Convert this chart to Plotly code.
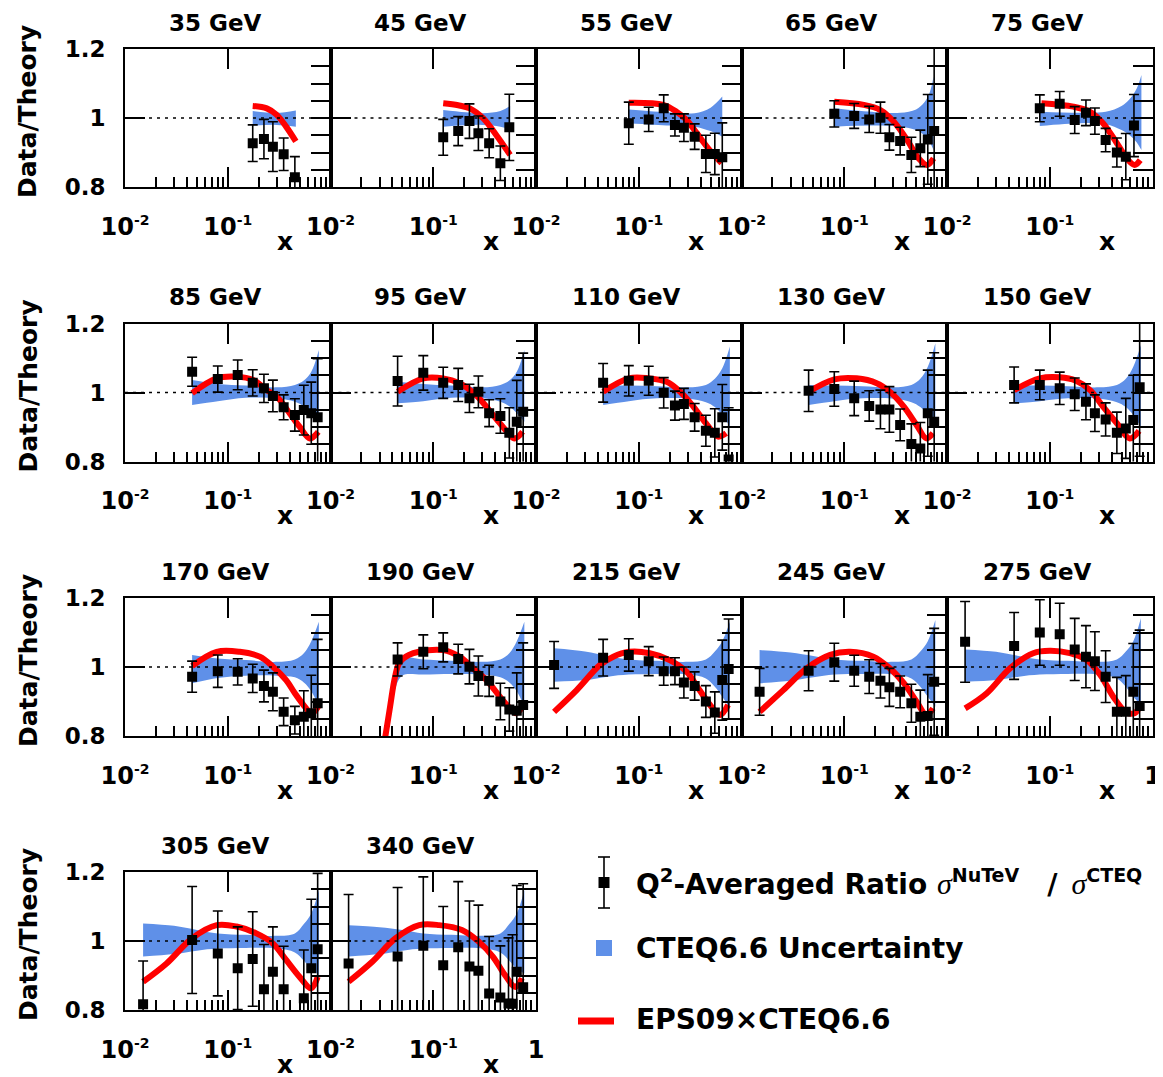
import plotly.graph_objects as go

W, H = 1163, 1077

# ---------------- data ----------------
TITLES = ["35 GeV", "45 GeV", "55 GeV", "65 GeV", "75 GeV",
          "85 GeV", "95 GeV", "110 GeV", "130 GeV", "150 GeV",
          "170 GeV", "190 GeV", "215 GeV", "245 GeV", "275 GeV",
          "305 GeV", "340 GeV"]

# 35 GeV
X_35 = [0.175, 0.225, 0.275, 0.35, 0.45]
Y_35 = [0.927, 0.939, 0.917, 0.895, 0.828]
E_35 = [0.053, 0.057, 0.072, 0.047, 0.06]
CX_35 = [0.175, 0.24, 0.3, 0.37, 0.46]
CY_35 = [1.035, 1.028, 1.009, 0.975, 0.932]
BX_35 = [0.175, 0.3, 0.46]
BLO_35 = [0.978, 0.98, 0.975]
BHI_35 = [1.02, 1.015, 1.022]

# 45 GeV
X_45 = [0.125, 0.175, 0.225, 0.275, 0.35, 0.45, 0.55]
Y_45 = [0.944, 0.962, 0.991, 0.956, 0.927, 0.869, 0.973]
E_45 = [0.052, 0.042, 0.05, 0.05, 0.042, 0.05, 0.096]
CX_45 = [0.125, 0.175, 0.227, 0.307, 0.41, 0.56]
CY_45 = [1.043, 1.037, 1.028, 0.999, 0.951, 0.893]
BX_45 = [0.125, 0.3, 0.45, 0.56]
BLO_45 = [0.975, 0.98, 0.975, 0.968]
BHI_45 = [1.023, 1.014, 1.02, 1.035]

# 55 GeV
X_55 = [0.08, 0.125, 0.175, 0.225, 0.275, 0.35, 0.45, 0.55, 0.65]
Y_55 = [0.985, 0.996, 1.028, 0.98, 0.972, 0.946, 0.896, 0.896, 0.886]
E_55 = [0.061, 0.035, 0.039, 0.032, 0.04, 0.037, 0.054, 0.06, 0.1]
CX_55 = [0.08, 0.173, 0.233, 0.293, 0.367, 0.49, 0.64]
CY_55 = [1.044, 1.038, 1.018, 0.994, 0.956, 0.907, 0.869]
BX_55 = [0.08, 0.2, 0.35, 0.5, 0.65]
BLO_55 = [0.985, 0.978, 0.975, 0.962, 0.946]
BHI_55 = [1.025, 1.016, 1.014, 1.03, 1.062]

# 65 GeV
X_65 = [0.08, 0.125, 0.175, 0.225, 0.275, 0.35, 0.45, 0.55, 0.65, 0.75]
Y_65 = [1.012, 1.006, 0.996, 1.001, 0.944, 0.933, 0.893, 0.912, 0.938, 0.962]
E_65 = [0.038, 0.036, 0.038, 0.045, 0.037, 0.04, 0.051, 0.053, 0.13, 0.25]
CX_65 = [0.08, 0.155, 0.225, 0.304, 0.41, 0.53, 0.64, 0.74]
CY_65 = [1.047, 1.038, 1.023, 0.989, 0.936, 0.883, 0.864, 0.883]
BX_65 = [0.08, 0.2, 0.35, 0.5, 0.6, 0.68, 0.74]
BLO_65 = [0.975, 0.978, 0.975, 0.965, 0.95, 0.93, 0.907]
BHI_65 = [1.028, 1.017, 1.015, 1.025, 1.045, 1.075, 1.12]

# 75 GeV
X_75 = [0.08, 0.125, 0.175, 0.225, 0.275, 0.35, 0.45, 0.55, 0.66]
Y_75 = [1.028, 1.041, 0.994, 1.015, 0.991, 0.936, 0.9, 0.888, 0.978]
E_75 = [0.039, 0.036, 0.039, 0.037, 0.038, 0.034, 0.042, 0.067, 0.09]
CX_75 = [0.083, 0.17, 0.247, 0.33, 0.45, 0.58, 0.67, 0.76]
CY_75 = [1.043, 1.033, 1.018, 0.985, 0.927, 0.878, 0.864, 0.878]
BX_75 = [0.08, 0.2, 0.35, 0.5, 0.6, 0.7, 0.78]
BLO_75 = [0.977, 0.985, 0.982, 0.965, 0.95, 0.93, 0.907]
BHI_75 = [1.018, 1.015, 1.018, 1.035, 1.055, 1.085, 1.125]

# 85 GeV
X_85 = [0.045, 0.08, 0.125, 0.175, 0.225, 0.275, 0.35, 0.45, 0.55, 0.65, 0.75]
Y_85 = [1.06, 1.039, 1.051, 1.028, 1.012, 0.99, 0.957, 0.935, 0.949, 0.94, 0.928]
E_85 = [0.042, 0.038, 0.043, 0.038, 0.041, 0.046, 0.036, 0.047, 0.072, 0.09, 0.17]
CX_85 = [0.045, 0.078, 0.122, 0.177, 0.24, 0.3, 0.4, 0.5, 0.63, 0.76]
CY_85 = [0.998, 1.041, 1.046, 1.036, 1.007, 0.988, 0.94, 0.901, 0.867, 0.886]
BX_85 = [0.045, 0.08, 0.15, 0.3, 0.45, 0.55, 0.65, 0.77]
BLO_85 = [0.964, 0.975, 0.985, 0.983, 0.973, 0.96, 0.94, 0.915]
BHI_85 = [1.036, 1.025, 1.02, 1.015, 1.022, 1.035, 1.06, 1.123]

# 95 GeV
X_95 = [0.045, 0.08, 0.125, 0.175, 0.225, 0.275, 0.35, 0.45, 0.55, 0.65, 0.75]
Y_95 = [1.033, 1.057, 1.028, 1.022, 0.983, 1.002, 0.94, 0.932, 0.883, 0.915, 0.944]
E_95 = [0.072, 0.05, 0.045, 0.048, 0.041, 0.046, 0.039, 0.05, 0.073, 0.12, 0.17]
CX_95 = [0.045, 0.08, 0.125, 0.18, 0.26, 0.35, 0.46, 0.62, 0.74]
CY_95 = [1.002, 1.041, 1.041, 1.027, 0.993, 0.949, 0.906, 0.867, 0.886]
BX_95 = [0.045, 0.08, 0.15, 0.3, 0.45, 0.55, 0.65, 0.77]
BLO_95 = [0.969, 0.975, 0.985, 0.983, 0.973, 0.96, 0.94, 0.915]
BHI_95 = [1.031, 1.025, 1.02, 1.015, 1.022, 1.035, 1.06, 1.123]

# 110 GeV
X_110 = [0.045, 0.08, 0.125, 0.175, 0.225, 0.275, 0.35, 0.45, 0.55, 0.65, 0.75]
Y_110 = [1.028, 1.034, 1.034, 0.999, 0.962, 0.967, 0.928, 0.889, 0.883, 0.928, 0.806]
E_110 = [0.056, 0.044, 0.042, 0.044, 0.042, 0.045, 0.04, 0.045, 0.07, 0.095, 0.15]
CX_110 = [0.045, 0.08, 0.125, 0.187, 0.253, 0.34, 0.45, 0.59, 0.71]
CY_110 = [1.002, 1.041, 1.041, 1.031, 1.002, 0.959, 0.911, 0.872, 0.882]
BX_110 = [0.045, 0.08, 0.15, 0.3, 0.45, 0.55, 0.65, 0.77]
BLO_110 = [0.964, 0.975, 0.983, 0.982, 0.972, 0.958, 0.935, 0.901]
BHI_110 = [1.022, 1.02, 1.018, 1.015, 1.022, 1.04, 1.07, 1.133]

# 130 GeV
X_130 = [0.045, 0.08, 0.125, 0.175, 0.225, 0.275, 0.35, 0.45, 0.55, 0.65, 0.75]
Y_130 = [1.005, 1.01, 0.983, 0.961, 0.951, 0.951, 0.906, 0.851, 0.838, 0.94, 0.915]
E_130 = [0.06, 0.05, 0.05, 0.044, 0.056, 0.066, 0.046, 0.058, 0.075, 0.125, 0.2]
CX_130 = [0.045, 0.08, 0.132, 0.207, 0.278, 0.38, 0.505, 0.63, 0.73]
CY_130 = [1.002, 1.038, 1.041, 1.027, 1.002, 0.959, 0.906, 0.867, 0.882]
BX_130 = [0.045, 0.08, 0.15, 0.3, 0.45, 0.55, 0.65, 0.77]
BLO_130 = [0.964, 0.975, 0.983, 0.982, 0.972, 0.958, 0.935, 0.901]
BHI_130 = [1.022, 1.02, 1.018, 1.015, 1.022, 1.04, 1.075, 1.143]

# 150 GeV
X_150 = [0.045, 0.08, 0.125, 0.175, 0.225, 0.275, 0.35, 0.45, 0.55, 0.65, 0.75]
Y_150 = [1.022, 1.022, 1.012, 0.995, 0.973, 0.94, 0.922, 0.883, 0.896, 0.92, 1.015]
E_150 = [0.052, 0.043, 0.047, 0.047, 0.052, 0.053, 0.048, 0.06, 0.087, 0.13, 0.2]
CX_150 = [0.045, 0.08, 0.125, 0.18, 0.247, 0.33, 0.45, 0.6, 0.74]
CY_150 = [1.007, 1.041, 1.044, 1.034, 1.007, 0.959, 0.911, 0.867, 0.889]
BX_150 = [0.045, 0.08, 0.15, 0.3, 0.45, 0.55, 0.65, 0.77]
BLO_150 = [0.968, 0.975, 0.983, 0.982, 0.972, 0.958, 0.935, 0.9]
BHI_150 = [1.022, 1.02, 1.018, 1.015, 1.022, 1.04, 1.075, 1.138]

# 170 GeV
X_170 = [0.045, 0.08, 0.125, 0.175, 0.225, 0.275, 0.35, 0.45, 0.55, 0.65, 0.75]
Y_170 = [0.972, 0.988, 0.986, 0.967, 0.945, 0.928, 0.87, 0.846, 0.856, 0.866, 0.895]
E_170 = [0.045, 0.047, 0.038, 0.041, 0.046, 0.055, 0.04, 0.04, 0.075, 0.11, 0.185]
CX_170 = [0.045, 0.078, 0.131, 0.205, 0.275, 0.37, 0.45, 0.58, 0.65, 0.76]
CY_170 = [1.003, 1.044, 1.044, 1.03, 1.001, 0.962, 0.924, 0.88, 0.864, 0.885]
BX_170 = [0.045, 0.08, 0.15, 0.3, 0.45, 0.55, 0.65, 0.77]
BLO_170 = [0.953, 0.968, 0.975, 0.975, 0.97, 0.955, 0.93, 0.885]
BHI_170 = [1.035, 1.025, 1.02, 1.015, 1.022, 1.04, 1.075, 1.131]

# 190 GeV
X_190 = [0.045, 0.08, 0.125, 0.175, 0.225, 0.275, 0.35, 0.45, 0.55, 0.65, 0.75]
Y_190 = [1.022, 1.044, 1.057, 1.023, 1.001, 0.974, 0.96, 0.9, 0.877, 0.873, 0.89]
E_190 = [0.048, 0.049, 0.042, 0.043, 0.05, 0.058, 0.045, 0.053, 0.063, 0.11, 0.18]
CX_190 = [0.033, 0.038, 0.0425, 0.0474, 0.064, 0.125, 0.18, 0.245, 0.33, 0.445, 0.56, 0.64, 0.74]
CY_190 = [0.77, 0.885, 0.972, 1.015, 1.04, 1.049, 1.03, 0.996, 0.962, 0.914, 0.88, 0.866, 0.885]
BX_190 = [0.034, 0.038, 0.043, 0.05, 0.08, 0.15, 0.3, 0.45, 0.55, 0.65, 0.77]
BLO_190 = [0.78, 0.85, 0.94, 0.975, 0.978, 0.98, 0.978, 0.97, 0.955, 0.93, 0.885]
BHI_190 = [0.82, 0.9, 0.985, 1.025, 1.022, 1.018, 1.015, 1.022, 1.04, 1.075, 1.131]

# 215 GeV
X_215 = [0.015, 0.045, 0.08, 0.125, 0.175, 0.225, 0.275, 0.35, 0.45, 0.55, 0.65, 0.75]
Y_215 = [1.006, 1.027, 1.035, 1.017, 0.988, 0.988, 0.955, 0.945, 0.9, 0.868, 0.962, 0.994]
E_215 = [0.068, 0.053, 0.047, 0.042, 0.041, 0.039, 0.045, 0.041, 0.046, 0.06, 0.116, 0.145]
CX_215 = [0.015, 0.0249, 0.042, 0.0565, 0.08, 0.128, 0.2, 0.293, 0.39, 0.51, 0.62, 0.74]
CY_215 = [0.87, 0.933, 1.006, 1.03, 1.044, 1.04, 1.02, 0.986, 0.933, 0.885, 0.861, 0.89]
BX_215 = [0.015, 0.03, 0.05, 0.08, 0.15, 0.3, 0.45, 0.55, 0.65, 0.77]
BLO_215 = [0.957, 0.962, 0.972, 0.978, 0.98, 0.978, 0.967, 0.943, 0.914, 0.88]
BHI_215 = [1.054, 1.045, 1.032, 1.022, 1.018, 1.015, 1.022, 1.045, 1.075, 1.131]

# 245 GeV
X_245 = [0.015, 0.045, 0.08, 0.125, 0.175, 0.225, 0.275, 0.35, 0.45, 0.55, 0.65, 0.75]
Y_245 = [0.928, 0.989, 1.014, 0.989, 0.972, 0.96, 0.941, 0.928, 0.895, 0.856, 0.858, 0.957]
E_245 = [0.068, 0.058, 0.055, 0.045, 0.049, 0.05, 0.055, 0.046, 0.055, 0.077, 0.12, 0.155]
CX_245 = [0.015, 0.0255, 0.043, 0.073, 0.114, 0.192, 0.278, 0.38, 0.505, 0.63, 0.73]
CY_245 = [0.87, 0.933, 0.996, 1.035, 1.044, 1.03, 0.996, 0.953, 0.9, 0.861, 0.88]
BX_245 = [0.015, 0.03, 0.05, 0.08, 0.15, 0.3, 0.45, 0.55, 0.65, 0.77]
BLO_245 = [0.953, 0.96, 0.97, 0.978, 0.98, 0.978, 0.967, 0.943, 0.914, 0.885]
BHI_245 = [1.049, 1.042, 1.032, 1.022, 1.018, 1.015, 1.022, 1.045, 1.075, 1.136]

# 275 GeV
X_275 = [0.015, 0.045, 0.08, 0.125, 0.175, 0.225, 0.275, 0.35, 0.45, 0.55, 0.65, 0.75]
Y_275 = [1.073, 1.061, 1.1, 1.095, 1.051, 1.03, 1.017, 0.972, 0.87, 0.87, 0.928, 0.887]
E_275 = [0.117, 0.097, 0.095, 0.09, 0.09, 0.09, 0.085, 0.075, 0.1, 0.105, 0.14, 0.22]
CX_275 = [0.015, 0.0244, 0.041, 0.069, 0.1, 0.157, 0.229, 0.31, 0.415, 0.55, 0.67, 0.75]
CY_275 = [0.88, 0.924, 0.996, 1.04, 1.047, 1.04, 1.02, 0.977, 0.914, 0.87, 0.866, 0.885]
BX_275 = [0.015, 0.03, 0.05, 0.08, 0.15, 0.3, 0.45, 0.55, 0.65, 0.77]
BLO_275 = [0.957, 0.962, 0.972, 0.978, 0.98, 0.978, 0.967, 0.943, 0.914, 0.89]
BHI_275 = [1.051, 1.044, 1.032, 1.022, 1.018, 1.015, 1.022, 1.045, 1.075, 1.141]

# 305 GeV
X_305 = [0.015, 0.045, 0.08, 0.125, 0.175, 0.225, 0.275, 0.35, 0.55, 0.65, 0.75]
Y_305 = [0.817, 1.003, 0.964, 0.921, 0.948, 0.86, 0.911, 0.86, 0.834, 0.921, 0.976]
E_305 = [0.125, 0.155, 0.123, 0.12, 0.137, 0.13, 0.13, 0.125, 0.14, 0.2, 0.22]
CX_305 = [0.015, 0.0254, 0.045, 0.078, 0.122, 0.19, 0.275, 0.37, 0.5, 0.65, 0.75]
CY_305 = [0.882, 0.935, 1.008, 1.046, 1.042, 1.022, 0.993, 0.945, 0.896, 0.863, 0.896]
BX_305 = [0.015, 0.03, 0.05, 0.08, 0.15, 0.3, 0.45, 0.55, 0.65, 0.77]
BLO_305 = [0.955, 0.962, 0.972, 0.978, 0.98, 0.978, 0.967, 0.943, 0.92, 0.901]
BHI_305 = [1.051, 1.044, 1.032, 1.022, 1.018, 1.015, 1.022, 1.049, 1.08, 1.148]

# 340 GeV
X_340 = [0.015, 0.045, 0.08, 0.125, 0.175, 0.225, 0.275, 0.35, 0.45, 0.54, 0.59, 0.65, 0.75]
Y_340 = [0.935, 0.955, 0.986, 0.93, 0.982, 0.926, 0.914, 0.848, 0.836, 0.819, 0.818, 0.911, 0.866]
E_340 = [0.2, 0.2, 0.2, 0.17, 0.19, 0.19, 0.19, 0.165, 0.15, 0.19, 0.2, 0.25, 0.3]
CX_340 = [0.015, 0.0255, 0.043, 0.073, 0.114, 0.19, 0.278, 0.38, 0.5, 0.63, 0.73]
CY_340 = [0.882, 0.94, 1.008, 1.046, 1.046, 1.032, 0.998, 0.955, 0.901, 0.867, 0.892]
BX_340 = [0.015, 0.03, 0.05, 0.08, 0.15, 0.3, 0.45, 0.55, 0.65, 0.77]
BLO_340 = [0.955, 0.962, 0.972, 0.978, 0.98, 0.978, 0.967, 0.943, 0.92, 0.906]
BHI_340 = [1.046, 1.04, 1.032, 1.022, 1.018, 1.015, 1.022, 1.049, 1.08, 1.148]

PANELS = [
    (X_35, Y_35, E_35, CX_35, CY_35, BX_35, BLO_35, BHI_35),
    (X_45, Y_45, E_45, CX_45, CY_45, BX_45, BLO_45, BHI_45),
    (X_55, Y_55, E_55, CX_55, CY_55, BX_55, BLO_55, BHI_55),
    (X_65, Y_65, E_65, CX_65, CY_65, BX_65, BLO_65, BHI_65),
    (X_75, Y_75, E_75, CX_75, CY_75, BX_75, BLO_75, BHI_75),
    (X_85, Y_85, E_85, CX_85, CY_85, BX_85, BLO_85, BHI_85),
    (X_95, Y_95, E_95, CX_95, CY_95, BX_95, BLO_95, BHI_95),
    (X_110, Y_110, E_110, CX_110, CY_110, BX_110, BLO_110, BHI_110),
    (X_130, Y_130, E_130, CX_130, CY_130, BX_130, BLO_130, BHI_130),
    (X_150, Y_150, E_150, CX_150, CY_150, BX_150, BLO_150, BHI_150),
    (X_170, Y_170, E_170, CX_170, CY_170, BX_170, BLO_170, BHI_170),
    (X_190, Y_190, E_190, CX_190, CY_190, BX_190, BLO_190, BHI_190),
    (X_215, Y_215, E_215, CX_215, CY_215, BX_215, BLO_215, BHI_215),
    (X_245, Y_245, E_245, CX_245, CY_245, BX_245, BLO_245, BHI_245),
    (X_275, Y_275, E_275, CX_275, CY_275, BX_275, BLO_275, BHI_275),
    (X_305, Y_305, E_305, CX_305, CY_305, BX_305, BLO_305, BHI_305),
    (X_340, Y_340, E_340, CX_340, CY_340, BX_340, BLO_340, BHI_340),
]

X_MAJOR = [0.01, 0.1, 1]
X_MINOR = [0.02, 0.03, 0.04, 0.05, 0.06, 0.07, 0.08, 0.09,
           0.2, 0.3, 0.4, 0.5, 0.6, 0.7, 0.8, 0.9]
Y_MAJOR = [0.8, 1.0, 1.2]
Y_MAJOR_TEXT = ["0.8", "1", "1.2"]
Y_RIGHT = [0.85, 0.9, 0.95, 1.0, 1.05, 1.1, 1.15]
SHOW_ONE = {"275 GeV", "340 GeV"}

# ---------------- style / geometry ----------------
BLUE = "#5f90e8"
RED = "#ff0000"
FONT = "DejaVu Sans"
COL_LEFT = [125, 330.5, 536, 741.5, 947]
ROW_TOP = [49, 323.5, 598, 872]
PW, PH = 205.5, 138
OFF = 8  # page body margin of the html page


def px(x):
    return (x - OFF) / W


def py(y):
    return 1 - (y - OFF) / H


def sup(t):
    return "10<sup><span style='font-size:14px'>%s</span></sup>" % t


fig = go.Figure()
layout = dict(
    width=W, height=H, autosize=False,
    margin=dict(l=0, r=0, t=0, b=0, autoexpand=False),
    paper_bgcolor="white", plot_bgcolor="rgba(0,0,0,0)",
    showlegend=False,
)
annotations = []
shapes = []
N = len(PANELS)
bold = dict(family=FONT, color="black", weight="bold")

for i, (xs, ys, es, cx, cy, bx, blo, bhi) in enumerate(PANELS):
    r, c = divmod(i, 5)
    k = i + 1
    kt = i + 1 + N
    sx = "" if k == 1 else str(k)
    xr, yr = "x" + sx, "y" + sx
    xr2, yr2 = "x" + str(kt), "y" + str(kt)
    x0, y0 = COL_LEFT[c], ROW_TOP[r]
    xd = [px(x0), px(x0 + PW)]
    yd = [py(y0 + PH), py(y0)]

    # band
    fig.add_trace(go.Scatter(x=bx, y=blo, mode="lines", line=dict(width=0, shape="spline", color=BLUE),
                             xaxis=xr, yaxis=yr, hoverinfo="skip"))
    fig.add_trace(go.Scatter(x=bx, y=bhi, mode="lines", line=dict(width=0, shape="spline", color=BLUE),
                             fill="tonexty", fillcolor=BLUE, xaxis=xr, yaxis=yr, hoverinfo="skip"))
    # EPS09 curve
    fig.add_trace(go.Scatter(x=cx, y=cy, mode="lines", line=dict(width=6, color=RED, shape="spline"),
                             xaxis=xr, yaxis=yr))
    # data
    fig.add_trace(go.Scatter(x=xs, y=ys, mode="markers",
                             marker=dict(symbol="square", size=10, color="black"),
                             error_y=dict(type="data", array=es, visible=True, color="black",
                                          thickness=1.6, width=5),
                             xaxis=xr, yaxis=yr))
    # dummy trace for the mirror axes (top / right ticks)
    fig.add_trace(go.Scatter(x=[], y=[], xaxis=xr2, yaxis=yr2, hoverinfo="skip"))

    ttext = [sup("-2"), sup("-1"), "1" if TITLES[i] in SHOW_ONE else " "]
    layout["xaxis" + sx] = dict(
        domain=xd, anchor=yr, type="log", range=[-2, 0], automargin=False,
        showline=True, linecolor="black", linewidth=2, mirror=True,
        ticks="inside", ticklen=20, tickwidth=1.5, tickcolor="black",
        tickmode="array", tickvals=X_MAJOR, ticktext=ttext,
        minor=dict(ticks="inside", ticklen=10, tickwidth=1.5, tickcolor="black",
                   tickmode="array", tickvals=X_MINOR, showgrid=False),
        showgrid=False, zeroline=False, fixedrange=True,
        tickfont=dict(size=24, **bold), ticklabelstandoff=17,
    )
    layout["yaxis" + sx] = dict(
        domain=yd, anchor=xr, range=[0.8, 1.2], automargin=False,
        showline=True, linecolor="black", linewidth=2, mirror=True,
        ticks="inside", ticklen=20, tickwidth=1.5, tickcolor="black",
        tickmode="array", tickvals=Y_MAJOR, ticktext=Y_MAJOR_TEXT,
        showticklabels=(c == 0),
        showgrid=False, zeroline=False, fixedrange=True,
        tickfont=dict(size=23, **bold), ticklabelstandoff=13,
    )
    layout["xaxis" + str(kt)] = dict(
        domain=xd, anchor=yr2, overlaying=xr, side="top", type="log", range=[-2, 0],
        automargin=False,
        showline=False, ticks="inside", ticklen=20, tickwidth=1.5, tickcolor="black",
        tickmode="array", tickvals=[0.1], showticklabels=False,
        showgrid=False, zeroline=False, fixedrange=True,
    )
    layout["yaxis" + str(kt)] = dict(
        domain=yd, anchor=xr2, overlaying=yr, side="right", range=[0.8, 1.2],
        automargin=False,
        showline=False, ticks="inside", ticklen=20, tickwidth=1.5, tickcolor="black",
        tickmode="array", tickvals=Y_RIGHT, showticklabels=False,
        showgrid=False, zeroline=False, fixedrange=True,
    )

    # dotted reference line at 1
    shapes.append(dict(type="line", xref=xr + " domain", yref=yr, x0=0, x1=1, y0=1, y1=1,
                       line=dict(color="black", width=1.5, dash="3px,5px"), layer="above"))

    # titles / labels
    annotations.append(dict(text=TITLES[i], x=px(x0 + PW / 2 - 13), y=py(y0 - 26), xref="paper",
                            yref="paper", showarrow=False, xanchor="center", yanchor="middle",
                            font=dict(size=23, **bold)))
    annotations.append(dict(text="x", x=px(x0 + 160), y=py(y0 + PH + 54), xref="paper", yref="paper",
                            showarrow=False, xanchor="center", yanchor="middle",
                            font=dict(size=25, **bold)))
    if c == 0:
        annotations.append(dict(text="Data/Theory", x=px(28), y=py(y0 + 63), xref="paper",
                                yref="paper", showarrow=False, textangle=-90,
                                xanchor="center", yanchor="middle", font=dict(size=25, **bold)))

# ---------------- legend (drawn) ----------------
LX, TX = 604, 634
shapes += [
    dict(type="line", xref="paper", yref="paper", x0=px(LX), x1=px(LX), y0=py(857), y1=py(908),
         line=dict(color="black", width=1.6)),
    dict(type="line", xref="paper", yref="paper", x0=px(LX - 6), x1=px(LX + 6), y0=py(857), y1=py(857),
         line=dict(color="black", width=1.6)),
    dict(type="line", xref="paper", yref="paper", x0=px(LX - 6), x1=px(LX + 6), y0=py(908), y1=py(908),
         line=dict(color="black", width=1.6)),
    dict(type="rect", xref="paper", yref="paper", x0=px(LX - 5.5), x1=px(LX + 5.5), y0=py(888), y1=py(877),
         fillcolor="black", line=dict(width=0)),
    dict(type="rect", xref="paper", yref="paper", x0=px(LX - 8), x1=px(LX + 8), y0=py(956), y1=py(940),
         fillcolor=BLUE, line=dict(width=0)),
    dict(type="line", xref="paper", yref="paper", x0=px(578), x1=px(614), y0=py(1021), y1=py(1021),
         line=dict(color=RED, width=7)),
]
sig = "<span style='font-family:Liberation Serif;font-weight:normal;font-size:30px'><i>σ</i></span>"
leg_texts = [
    ("Q<sup>2</sup>-Averaged Ratio " + sig +
     "<sup><span style='font-size:19px'>NuTeV</span></sup>\u2003/\u2002" + sig +
     "<sup><span style='font-size:19px'>CTEQ</span></sup>", 882),
    ("CTEQ6.6 Uncertainty", 948),
    ("EPS09×CTEQ6.6", 1019),
]
for t, yy in leg_texts:
    annotations.append(dict(text=t, x=px(TX), y=py(yy), xref="paper", yref="paper", showarrow=False,
                            xanchor="left", yanchor="middle", font=dict(size=28, **bold)))

layout["annotations"] = annotations
layout["shapes"] = shapes
fig.update_layout(**layout)
fig.write_html("out.html")
